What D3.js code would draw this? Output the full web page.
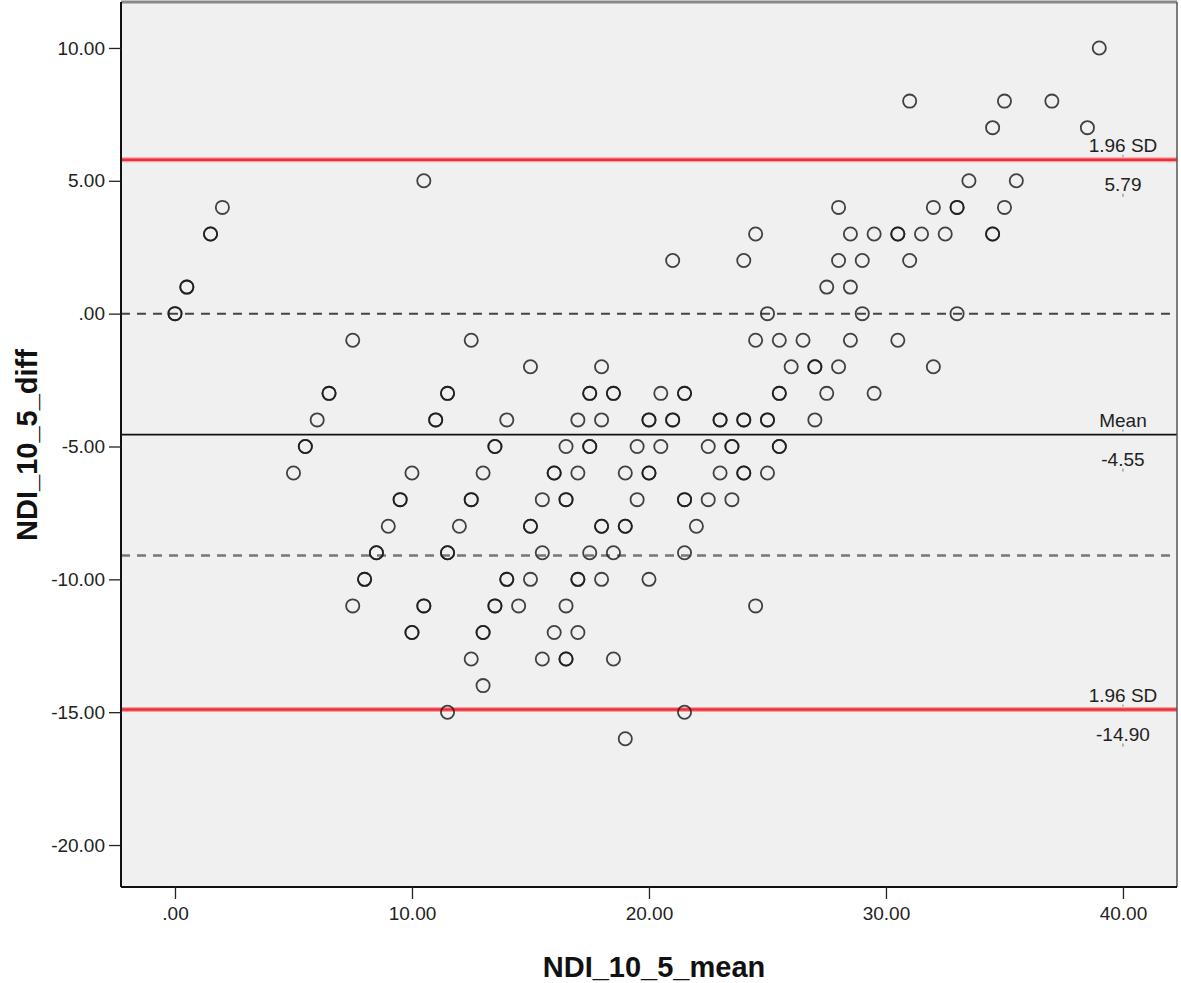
<!DOCTYPE html>
<html>
<head>
<meta charset="utf-8">
<script src="https://cdn.jsdelivr.net/npm/d3@7"></script>
<style>
  html, body { margin: 0; padding: 0; background: #ffffff; }
  svg { display: block; }
</style>
</head>
<body>
<svg id="chart" width="1181" height="983"></svg>
<script>
// ---- Data ----
const meanVals = [
  39,
  31, 35, 37,
  34.5, 38.5,
  10.5, 33.5, 35.5,
  2.0, 28.0, 32.0, 33.0, 33.0, 35.0,
  1.5, 1.5, 24.5, 28.5, 29.5, 30.5, 30.5, 31.5, 32.5, 34.5, 34.5,
  21.0, 24.0, 28.0, 29.0, 31.0,
  0.5, 0.5, 27.5, 28.5,
  0, 0, 25.0, 29.0, 33.0,
  7.5, 12.5, 24.5, 25.5, 26.5, 28.5, 30.5,
  15.0, 18.0, 26.0, 27.0, 27.0, 28.0, 32.0,
  6.5, 6.5, 11.5, 11.5, 17.5, 17.5, 18.5, 18.5, 20.5, 21.5, 21.5, 25.5, 25.5, 27.5, 29.5,
  6.0, 11.0, 11.0, 14.0, 17.0, 18.0, 20.0, 20.0, 21.0, 21.0, 23.0, 23.0, 24.0, 24.0, 25.0, 25.0, 27.0,
  5.5, 5.5, 13.5, 13.5, 16.5, 17.5, 17.5, 19.5, 20.5, 22.5, 23.5, 23.5, 25.5, 25.5,
  5.0, 10.0, 13.0, 16.0, 16.0, 17.0, 19.0, 20.0, 20.0, 23.0, 24.0, 24.0, 25.0,
  9.5, 9.5, 12.5, 12.5, 15.5, 16.5, 16.5, 19.5, 21.5, 21.5, 22.5, 23.5,
  9.0, 12.0, 15.0, 15.0, 18.0, 18.0, 19.0, 19.0, 22.0,
  8.5, 8.5, 11.5, 11.5, 15.5, 17.5, 18.5, 21.5,
  8.0, 8.0, 14.0, 14.0, 15.0, 17.0, 17.0, 18.0, 20.0,
  7.5, 10.5, 10.5, 13.5, 13.5, 14.5, 16.5, 24.5,
  10.0, 10.0, 13.0, 13.0, 16.0, 17.0,
  12.5, 15.5, 16.5, 16.5, 18.5,
  13.0,
  11.5, 21.5,
  19.0
];
const diffVals = [
  10,
  8, 8, 8,
  7, 7,
  5, 5, 5,
  4, 4, 4, 4, 4, 4,
  3, 3, 3, 3, 3, 3, 3, 3, 3, 3, 3,
  2, 2, 2, 2, 2,
  1, 1, 1, 1,
  0, 0, 0, 0, 0,
  -1, -1, -1, -1, -1, -1, -1,
  -2, -2, -2, -2, -2, -2, -2,
  -3, -3, -3, -3, -3, -3, -3, -3, -3, -3, -3, -3, -3, -3, -3,
  -4, -4, -4, -4, -4, -4, -4, -4, -4, -4, -4, -4, -4, -4, -4, -4, -4,
  -5, -5, -5, -5, -5, -5, -5, -5, -5, -5, -5, -5, -5, -5,
  -6, -6, -6, -6, -6, -6, -6, -6, -6, -6, -6, -6, -6,
  -7, -7, -7, -7, -7, -7, -7, -7, -7, -7, -7, -7,
  -8, -8, -8, -8, -8, -8, -8, -8, -8,
  -9, -9, -9, -9, -9, -9, -9, -9,
  -10, -10, -10, -10, -10, -10, -10, -10, -10,
  -11, -11, -11, -11, -11, -11, -11, -11,
  -12, -12, -12, -12, -12, -12,
  -13, -13, -13, -13, -13,
  -14,
  -15, -15,
  -16
];
const xTicks = [0, 10, 20, 30, 40];
const xTickLabels = [".00", "10.00", "20.00", "30.00", "40.00"];
const yTicks = [10, 5, 0, -5, -10, -15, -20];
const yTickLabels = ["10.00", "5.00", ".00", "-5.00", "-10.00", "-15.00", "-20.00"];
const upperLoA = 5.79;
const meanDiff = -4.55;
const lowerLoA = -14.90;
const zeroRef = 0;
const lowerRef = -9.1;
const xTitle = "NDI_10_5_mean";
const yTitle = "NDI_10_5_diff";

// ---- Layout ----
const plot = { left: 121, top: 2, right: 1177, bottom: 887 };
const FONT = "Liberation Sans, Arial, sans-serif";
const svg = d3.select("#chart");

const x = d3.scaleLinear().domain([-2.278, 42.28]).range([plot.left, plot.right]);
const y = d3.scaleLinear().domain([11.73, -21.58]).range([plot.top, plot.bottom]);

// plot background
svg.append("rect")
  .attr("x", plot.left).attr("y", plot.top)
  .attr("width", plot.right - plot.left).attr("height", plot.bottom - plot.top)
  .attr("fill", "#f0f0f0");

// reference lines
function hline(v, color, width, dash) {
  svg.append("line")
    .attr("x1", plot.left).attr("x2", plot.right)
    .attr("y1", y(v)).attr("y2", y(v))
    .attr("stroke", color).attr("stroke-width", width)
    .attr("stroke-dasharray", dash || null);
}
hline(upperLoA, "#f5a0a3", 5);
hline(upperLoA, "#ec2f38", 2.6);
hline(lowerLoA, "#f5a0a3", 5);
hline(lowerLoA, "#ec2f38", 2.6);
hline(zeroRef, "#444444", 2, "9,7");
hline(lowerRef, "#777777", 2.5, "9,7");
hline(meanDiff, "#111111", 1.8);

// points
svg.append("g").selectAll("circle")
  .data(meanVals.map((m, i) => ({ m, d: diffVals[i] })))
  .join("circle")
  .attr("cx", p => x(p.m))
  .attr("cy", p => y(p.d))
  .attr("r", 6.6)
  .attr("fill", "none")
  .attr("stroke", "#1a1a1a")
  .attr("stroke-width", 1.8)
  .attr("stroke-opacity", 0.82);

// annotation labels
const annX = x(40);
const ann = [
  { v: upperLoA, top: "1.96 SD", bottom: upperLoA.toFixed(2) },
  { v: meanDiff, top: "Mean", bottom: meanDiff.toFixed(2) },
  { v: lowerLoA, top: "1.96 SD", bottom: lowerLoA.toFixed(2) }
];
const annG = svg.append("g")
  .attr("font-family", FONT)
  .attr("font-size", 19).attr("fill", "#222").attr("text-anchor", "middle");
ann.forEach(a => {
  annG.append("text").attr("x", annX).attr("y", y(a.v) - 8).text(a.top);
  annG.append("text").attr("x", annX).attr("y", y(a.v) + 31).text(a.bottom);
  annG.append("line").attr("x1", annX).attr("x2", annX)
    .attr("y1", y(a.v) - 5).attr("y2", y(a.v) - 3)
    .attr("stroke", "#777").attr("stroke-width", 1);
  annG.append("line").attr("x1", annX).attr("x2", annX)
    .attr("y1", y(a.v) + 34).attr("y2", y(a.v) + 37)
    .attr("stroke", "#777").attr("stroke-width", 1);
});

// axes frame
svg.append("line").attr("x1", plot.left).attr("x2", plot.right)
  .attr("y1", plot.top).attr("y2", plot.top)
  .attr("stroke", "#888").attr("stroke-width", 3);
svg.append("line").attr("x1", plot.right).attr("x2", plot.right)
  .attr("y1", plot.top).attr("y2", plot.bottom)
  .attr("stroke", "#555").attr("stroke-width", 1.5);

// x axis
const xAxis = d3.axisBottom(x).tickValues(xTicks)
  .tickFormat((d, i) => xTickLabels[i]).tickSize(12).tickPadding(8);
const gx = svg.append("g").attr("transform", `translate(0,${plot.bottom})`).call(xAxis);
gx.select(".domain").attr("stroke", "#111").attr("stroke-width", 2)
  .attr("d", `M${plot.left},0H${plot.right}`);
gx.selectAll(".tick line").attr("stroke", "#222").attr("stroke-width", 1.3);
gx.selectAll("text").attr("font-family", FONT)
  .attr("font-size", 19).attr("fill", "#222");

// y axis
const yAxis = d3.axisLeft(y).tickValues(yTicks)
  .tickFormat((d, i) => yTickLabels[i]).tickSize(12).tickPadding(4);
const gy = svg.append("g").attr("transform", `translate(${plot.left},0)`).call(yAxis);
gy.select(".domain").attr("stroke", "#111").attr("stroke-width", 2)
  .attr("d", `M0,${plot.top}V${plot.bottom}`);
gy.selectAll(".tick line").attr("stroke", "#222").attr("stroke-width", 1.3);
gy.selectAll("text").attr("font-family", FONT)
  .attr("font-size", 19).attr("fill", "#222");

// axis titles
svg.append("text")
  .attr("x", 654).attr("y", 977)
  .attr("text-anchor", "middle")
  .attr("font-family", FONT)
  .attr("font-weight", "bold").attr("font-size", 29).attr("fill", "#111")
  .text(xTitle);
svg.append("text")
  .attr("transform", `translate(37,445) rotate(-90)`)
  .attr("text-anchor", "middle")
  .attr("font-family", FONT)
  .attr("font-weight", "bold").attr("font-size", 29).attr("fill", "#111")
  .text(yTitle);
</script>
</body>
</html>
